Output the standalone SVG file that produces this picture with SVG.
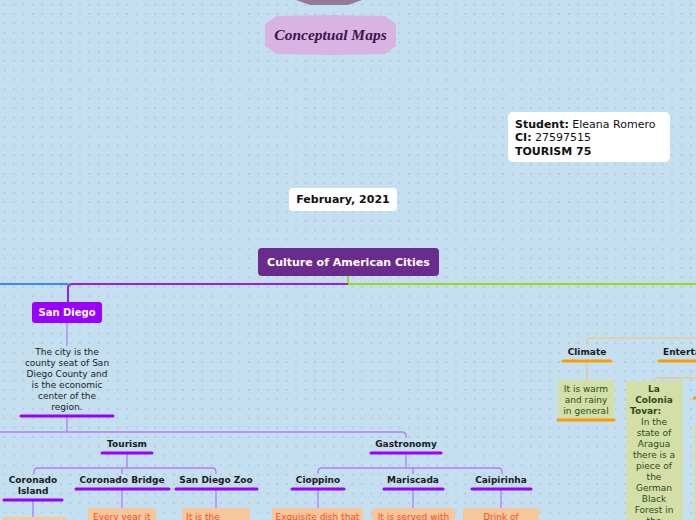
<svg xmlns="http://www.w3.org/2000/svg" width="696" height="520" viewBox="0 0 696 520">
<defs>
<pattern id="dots" x="0" y="0" width="9.4" height="9.4" patternUnits="userSpaceOnUse">
<rect width="9.4" height="9.4" fill="#c4dff0"/>
<circle cx="4.7" cy="4.7" r="0.85" fill="#aac2d6"/>
</pattern>
<style>
text{font-family:"DejaVu Sans",Verdana,sans-serif;}
.lbl{font-size:9px;font-weight:bold;fill:#1a1a1a;text-anchor:middle;}
.body{font-size:9px;fill:#222;text-anchor:middle;}
.ul{stroke:#9b00ff;stroke-width:3;stroke-linecap:round;fill:none;}
.ulo{stroke:#ff9a00;stroke-width:3;stroke-linecap:round;fill:none;}
.lp{stroke:#b57aff;stroke-width:1.3;fill:none;}
.lo{stroke:#e8c78c;stroke-width:1.3;fill:none;}
.obox{fill:#f7c79c;}
.otxt{font-size:9px;fill:#ff4a1a;}
.gbox{fill:#d3dfa6;}
.gtxt{font-size:9px;fill:#2f4a1c;}
</style>
</defs>
<rect width="696" height="520" fill="url(#dots)"/>

<g id="top-shape"><polygon points="296,0 362,0 348,5 310,5" fill="#937a96"/></g>

<g id="title">
<polygon points="277,16 330,15 385,16 396,24 396,46 385,54 330,55 277,54 265,46 265,24" fill="#d9b3e1"/>
<text x="330.5" y="40" text-anchor="middle" style="font-family:'Liberation Serif',serif;font-style:italic;font-weight:bold;font-size:15.5px;fill:#3d1450">Conceptual Maps</text>
</g>

<g id="student">
<rect x="508" y="112" width="162" height="50" rx="5" fill="#fff"/>
<text x="515" y="128" style="font-size:11px;fill:#111"><tspan font-weight="bold">Student:</tspan> Eleana Romero</text>
<text x="515" y="141" style="font-size:11px;fill:#111"><tspan font-weight="bold">CI:</tspan> 27597515</text>
<text x="515" y="155" style="font-size:11px;fill:#111;font-weight:bold">TOURISM 75</text>
</g>

<g id="date">
<rect x="289" y="188" width="108" height="23" rx="4" fill="#fff"/>
<text x="343" y="203" text-anchor="middle" style="font-size:11px;font-weight:bold;fill:#111">February, 2021</text>
</g>

<g id="connectors">
<path d="M348,276 V284" stroke="#9ad81a" stroke-width="2"/>
<path d="M0,284 H68" stroke="#3d8af7" stroke-width="2" fill="none"/>
<path d="M348,284 H72 Q68,284 68,288 V302" stroke="#9a1aff" stroke-width="2" fill="none"/>
<path d="M348,284 H696" stroke="#9ad81a" stroke-width="2" fill="none"/>
<path d="M67,323 V346" class="lp"/>
<path d="M67,416 V432" class="lp"/>
<path d="M0,432 H402 Q406,432 406,436 V438" class="lp"/>
<path d="M127,453 V468" class="lp"/>
<path d="M38,468 H212 Q216,468 216,472 V474 M34,474 V472 Q34,468 38,468 M122,468 V474" class="lp"/>
<path d="M33,500 V520" class="lp"/>
<path d="M122,489 V508" class="lp"/>
<path d="M216,489 V508" class="lp"/>
<path d="M406,453 V468" class="lp"/>
<path d="M322,468 H498 Q502,468 502,472 V474 M318,474 V472 Q318,468 322,468 M413,468 V474" class="lp"/>
<path d="M318,489 V508" class="lp"/>
<path d="M413,489 V508" class="lp"/>
<path d="M501,489 V508" class="lp"/>
<path d="M696,338 H591 Q587,338 587,342 V344" class="lo"/>
<path d="M587,361 V380" class="lo"/>
<path d="M696,378 H658 Q654,378 654,382" class="lo"/>
</g>

<g id="central">
<rect x="258" y="248" width="181" height="28" rx="4" fill="#6a2a8e"/>
<text x="348.5" y="266" text-anchor="middle" style="font-size:11px;font-weight:bold;fill:#fff">Culture of American Cities</text>
</g>

<g id="san-diego">
<rect x="32" y="302" width="70" height="21" rx="3" fill="#9b00ff"/>
<text x="67" y="316" text-anchor="middle" style="font-size:10px;font-weight:bold;fill:#fff">San Diego</text>
</g>

<g id="san-diego-desc">
<text class="body" x="67" y="355">The city is the</text>
<text class="body" x="67" y="366">county seat of San</text>
<text class="body" x="67" y="377">Diego County and</text>
<text class="body" x="67" y="388">is the economic</text>
<text class="body" x="67" y="399">center of the</text>
<text class="body" x="67" y="410">region.</text>
<path d="M21,416 H113" class="ul"/>
</g>

<g id="tourism">
<text class="lbl" x="127" y="447">Tourism</text>
<path d="M102,453 H152" class="ul"/>
</g>

<g id="coronado-island">
<text class="lbl" x="33" y="483">Coronado</text>
<text class="lbl" x="33" y="494">Island</text>
<path d="M4,500 H62" class="ul"/>
<rect class="obox" x="3" y="517" width="64" height="10" rx="2"/>
</g>

<g id="coronado-bridge">
<text class="lbl" x="122" y="483">Coronado Bridge</text>
<path d="M76,489 H169" class="ul"/>
<rect class="obox" x="88" y="508" width="68" height="20" rx="2"/>
<text class="otxt" x="93" y="520">Every year it</text>
</g>

<g id="san-diego-zoo">
<text class="lbl" x="216" y="483">San Diego Zoo</text>
<path d="M176,489 H257" class="ul"/>
<rect class="obox" x="182" y="508" width="68" height="20" rx="2"/>
<text class="otxt" x="186" y="520">It is the</text>
</g>

<g id="gastronomy">
<text class="lbl" x="406" y="447">Gastronomy</text>
<path d="M371,453 H441" class="ul"/>
</g>

<g id="cioppino">
<text class="lbl" x="318" y="483">Cioppino</text>
<path d="M292,489 H344" class="ul"/>
<rect class="obox" x="272" y="508" width="91" height="20" rx="2"/>
<text class="otxt" x="317.5" y="520" text-anchor="middle">Exquisite dish that</text>
</g>

<g id="mariscada">
<text class="lbl" x="413" y="483">Mariscada</text>
<path d="M384,489 H443" class="ul"/>
<rect class="obox" x="372" y="508" width="83" height="20" rx="2"/>
<text class="otxt" x="413.5" y="520" text-anchor="middle">It is served with</text>
</g>

<g id="caipirinha">
<text class="lbl" x="501" y="483">Caipirinha</text>
<path d="M472,489 H531" class="ul"/>
<rect class="obox" x="463" y="508" width="76" height="20" rx="2"/>
<text class="otxt" x="501" y="520" text-anchor="middle">Drink of</text>
</g>

<g id="climate">
<text class="lbl" x="587" y="355">Climate</text>
<path d="M563,361 H611" class="ulo"/>
<rect class="gbox" x="558" y="380" width="56" height="38" rx="2"/>
<text class="gtxt" x="586" y="392" text-anchor="middle">It is warm</text>
<text class="gtxt" x="586" y="403" text-anchor="middle">and rainy</text>
<text class="gtxt" x="586" y="414" text-anchor="middle">in general</text>
<path d="M558,420 H614" class="ulo"/>
</g>

<g id="entertainment">
<text x="663" y="355" style="font-size:9px;font-weight:bold;fill:#1a1a1a">Entertainment</text>
<path d="M659,361 H700" class="ulo"/>
<path d="M694,398 H700" class="ulo"/>
<rect class="gbox" x="694" y="425" width="10" height="100"/>
</g>

<g id="colonia-tovar">
<rect class="gbox" x="626" y="381" width="57" height="145" rx="2"/>
<text class="gtxt" x="654" y="392" font-weight="bold" text-anchor="middle">La</text>
<text class="gtxt" x="654" y="403" font-weight="bold" text-anchor="middle">Colonia</text>
<text class="gtxt" x="630" y="414" font-weight="bold" text-anchor="start">Tovar:</text>
<text class="gtxt" x="654" y="425" text-anchor="middle">In the</text>
<text class="gtxt" x="654" y="436" text-anchor="middle">state of</text>
<text class="gtxt" x="654" y="447" text-anchor="middle">Aragua</text>
<text class="gtxt" x="654" y="458" text-anchor="middle">there is a</text>
<text class="gtxt" x="654" y="469" text-anchor="middle">piece of</text>
<text class="gtxt" x="654" y="480" text-anchor="middle">the</text>
<text class="gtxt" x="654" y="491" text-anchor="middle">German</text>
<text class="gtxt" x="654" y="502" text-anchor="middle">Black</text>
<text class="gtxt" x="654" y="513" text-anchor="middle">Forest in</text>
<text class="gtxt" x="654" y="524" text-anchor="middle">the</text>
</g>
</svg>
